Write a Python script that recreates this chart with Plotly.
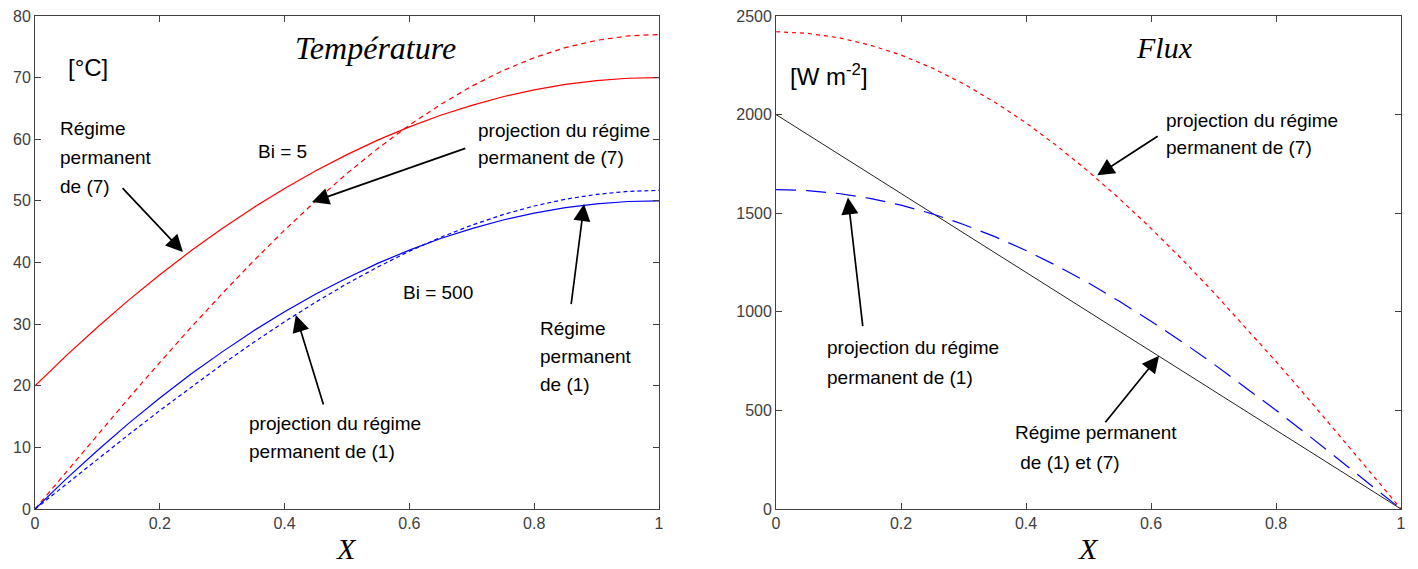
import plotly.graph_objects as go

# ---------------- data ----------------
x_vals = [0, 0.05, 0.1, 0.15, 0.2, 0.25, 0.3, 0.35, 0.4, 0.45, 0.5,
          0.55, 0.6, 0.65, 0.7, 0.75, 0.8, 0.85, 0.9, 0.95, 1]

# Temperature [°C]
temp_perm7 = [20, 24.9, 29.5, 33.9, 38, 41.9, 45.5, 48.9, 52, 54.9, 57.5,
              59.9, 62, 63.9, 65.5, 66.9, 68, 68.9, 69.5, 69.9, 70]
temp_proj7 = [0, 6.05, 12.04, 17.97, 23.79, 29.47, 34.96, 40.23, 45.26, 50.0, 54.45,
              58.55, 62.29, 65.65, 68.61, 71.14, 73.23, 74.87, 76.05, 76.76, 77]
temp_perm1 = [0, 4.9, 9.5, 13.9, 18, 21.9, 25.5, 28.9, 32, 34.9, 37.5,
              39.9, 42, 43.9, 45.5, 46.9, 48, 48.9, 49.5, 49.9, 50]
temp_proj1 = [0, 4.06, 8.09, 12.07, 15.98, 19.79, 23.47, 27.01, 30.39, 33.57, 36.56,
              39.31, 41.83, 44.08, 46.06, 47.77, 49.17, 50.27, 51.06, 51.54, 51.7]

# Flux [W m-2]
flux_proj7 = [2420, 2412, 2390, 2353, 2302, 2236, 2156, 2063, 1958, 1840, 1711,
              1572, 1423, 1265, 1099, 926, 748, 565, 379, 190, 0]
flux_perm = [2000, 1900, 1800, 1700, 1600, 1500, 1400, 1300, 1200, 1100, 1000,
             900, 800, 700, 600, 500, 400, 300, 200, 100, 0]
flux_proj1 = [1620, 1615, 1600, 1575, 1541, 1497, 1443, 1381, 1311, 1232, 1146,
              1052, 952, 847, 736, 620, 501, 378, 253, 127, 0]

x_ticks = [0, 0.2, 0.4, 0.6, 0.8, 1]
x_tick_labels = ["0", "0.2", "0.4", "0.6", "0.8", "1"]
temp_ticks = [0, 10, 20, 30, 40, 50, 60, 70, 80]
flux_ticks = [0, 500, 1000, 1500, 2000, 2500]

SANS = "Liberation Sans, Arial, sans-serif"
SERIF = "Liberation Serif, Times New Roman, serif"
RED = "#ff0000"
BLUE = "#0000ff"

fig = go.Figure()

fig.add_trace(go.Scatter(x=x_vals, y=temp_perm7, mode="lines", line=dict(color=RED, width=1.2),
                         xaxis="x", yaxis="y"))
fig.add_trace(go.Scatter(x=x_vals, y=temp_proj7, mode="lines", line=dict(color=RED, width=1.2, dash="5px,4px"),
                         xaxis="x", yaxis="y"))
fig.add_trace(go.Scatter(x=x_vals, y=temp_perm1, mode="lines", line=dict(color=BLUE, width=1.2),
                         xaxis="x", yaxis="y"))
fig.add_trace(go.Scatter(x=x_vals, y=temp_proj1, mode="lines", line=dict(color=BLUE, width=1.2, dash="4px,3px"),
                         xaxis="x", yaxis="y"))

fig.add_trace(go.Scatter(x=x_vals, y=flux_proj7, mode="lines", line=dict(color=RED, width=1.2, dash="4px,4px"),
                         xaxis="x2", yaxis="y2"))
fig.add_trace(go.Scatter(x=x_vals, y=flux_perm, mode="lines", line=dict(color="#222222", width=1),
                         xaxis="x2", yaxis="y2"))
fig.add_trace(go.Scatter(x=x_vals, y=flux_proj1, mode="lines", line=dict(color=BLUE, width=1.2, dash="20px,10px"),
                         xaxis="x2", yaxis="y2"))

axis_common = dict(showgrid=False, zeroline=False, showline=True, linecolor="#404040", linewidth=1,
                   mirror="ticks", ticks="inside", ticklen=6, tickcolor="#404040", automargin=False,
                   tickfont=dict(family=SANS, size=16, color="#404040"))

ydom = [0.1054, 0.9719]
fig.update_layout(
    width=1418, height=569,
    margin=dict(l=0, r=0, t=0, b=0, autoexpand=False),
    paper_bgcolor="white", plot_bgcolor="white",
    showlegend=False,
    xaxis=dict(domain=[0.0247, 0.4647], range=[0, 1], tickvals=x_ticks, ticktext=x_tick_labels,
               anchor="y", **axis_common),
    yaxis=dict(domain=ydom, range=[0, 80], tickvals=temp_ticks, anchor="x", **axis_common),
    xaxis2=dict(domain=[0.5473, 0.988], range=[0, 1], tickvals=x_ticks, ticktext=x_tick_labels,
                anchor="y2", **axis_common),
    yaxis2=dict(domain=ydom, range=[0, 2500], tickvals=flux_ticks, anchor="x2", **axis_common),
)

ann = []

def text(x, y, lines, xr, yr, size=19, xanchor="left", family=SANS, italic=False, spacing=28):
    n = len(lines)
    for i, t in enumerate(lines):
        if italic:
            t = "<i>" + t + "</i>"
        ann.append(dict(x=x, y=y, xref=xr, yref=yr, text=t, showarrow=False, xanchor=xanchor,
                        yanchor="middle", yshift=-(i - (n - 1) / 2) * spacing,
                        font=dict(family=family, size=size, color="black")))

def arrow(tx, ty, hx, hy, xr, yr):
    ann.append(dict(x=hx, y=hy, ax=tx, ay=ty, xref=xr, yref=yr, axref=xr, ayref=yr, text="",
                    showarrow=True, arrowhead=2, arrowsize=2.0, arrowwidth=1.7, arrowcolor="black"))

# Titles / axis labels
text(0.546, 74.8, ["Température"], "x", "y", size=32, xanchor="center", family=SERIF, italic=True)
text(0.6216, 2342, ["Flux"], "x2", "y2", size=30, xanchor="center", family=SERIF, italic=True)
ann.append(dict(x=0.5, y=-0.081, xref="x domain", yref="y domain", text="<i>X</i>", showarrow=False,
                xanchor="center", yanchor="middle", font=dict(family=SERIF, size=30, color="black")))
ann.append(dict(x=0.5, y=-0.081, xref="x2 domain", yref="y2 domain", text="<i>X</i>", showarrow=False,
                xanchor="center", yanchor="middle", font=dict(family=SERIF, size=30, color="black")))

# Left panel
text(0.05, 71.6, ["[°C]"], "x", "y", size=24)
text(0.037, 57.1, ["Régime", "permanent", "de (7)"], "x", "y", spacing=29)
arrow(0.138, 52.3, 0.237, 41.7, "x", "y")
text(0.396, 58.0, ["Bi = 5"], "x", "y", xanchor="center")
text(0.707, 59.2, ["projection du régime", "permanent de (7)"], "x", "y", spacing=27)
arrow(0.692, 58.6, 0.444, 49.8, "x", "y")
text(0.646, 35.2, ["Bi = 500"], "x", "y", xanchor="center")
text(0.806, 24.8, ["Régime", "permanent", "de (1)"], "x", "y", spacing=28)
arrow(0.859, 33.0, 0.88, 49.5, "x", "y")
text(0.34, 11.6, ["projection du régime", "permanent de (1)"], "x", "y", spacing=28)
arrow(0.463, 16.7, 0.418, 31.5, "x", "y")

# Right panel
text(0.019, 2200, ["[W m<sup>-2</sup>]"], "x2", "y2", size=24)
text(0.62, 1903, ["projection du régime", "permanent de (7)"], "x2", "y2", spacing=27)
arrow(0.613, 1895, 0.514, 1692, "x2", "y2")
text(0.078, 742, ["projection du régime", "permanent de (1)"], "x2", "y2", spacing=30)
arrow(0.139, 920, 0.115, 1580, "x2", "y2")
text(0.379, 310, ["Régime permanent", " de (1) et (7)"], "x2", "y2", spacing=30)
arrow(0.525, 432, 0.613, 777, "x2", "y2")

fig.update_layout(annotations=ann)
fig.write_html("out.html")
